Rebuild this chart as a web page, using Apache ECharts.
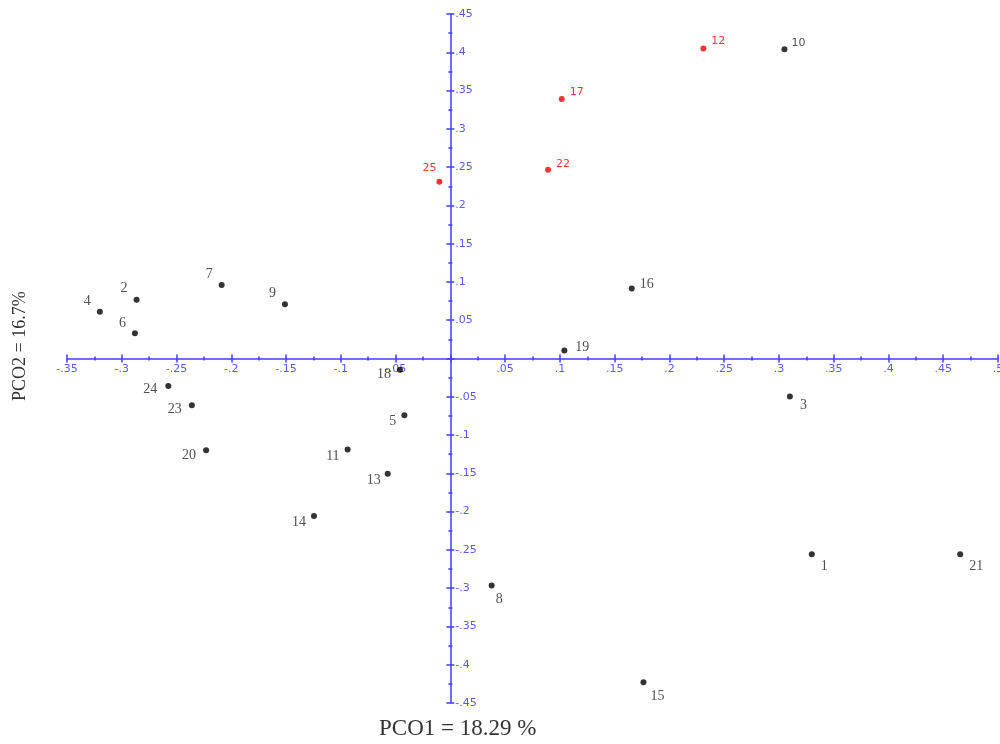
<!DOCTYPE html>
<html>
<head>
<meta charset="utf-8">
<script src="https://cdn.jsdelivr.net/npm/echarts@6/dist/echarts.min.js"></script>
<style>
  html, body { margin: 0; padding: 0; background: #fff; }
  #main { width: 1000px; height: 744px; }
</style>
</head>
<body>
<div id="main"></div>
<script>
// sample ids and their PCO scores
var blackIds = ['1', '2', '3', '4', '5', '6', '7', '8', '9', '10', '11', '13', '14',
                '15', '16', '18', '19', '20', '21', '23', '24'];
var blackPco1 = [0.330, -0.2865, 0.310, -0.320, -0.042, -0.288, -0.2088, 0.0377, -0.151, 0.305, -0.0938, -0.0572, -0.1245,
                 0.1763, 0.1656, -0.046, 0.1041, -0.223, 0.4655, -0.236, -0.2575];
var blackPco2 = [-0.2556, 0.0768, -0.0495, 0.0612, -0.074, 0.033, 0.096, -0.2965, 0.071, 0.404, -0.119, -0.1506, -0.2057,
                 -0.4228, 0.0916, -0.0147, 0.0104, -0.120, -0.2556, -0.061, -0.036];

var redIds = ['12', '17', '22', '25'];
var redPco1 = [0.231, 0.1017, 0.0892, -0.010];
var redPco2 = [0.405, 0.339, 0.2465, 0.231];

var xRange = [-0.35, 0.5];
var yRange = [-0.45, 0.45];

// label placement (style only): position, distance, vertical shift, horizontal shift
var labelPlace = {
    '10': ['right', 4, -6], '12': ['right', 5, -7], '17': ['right', 5, -7], '22': ['right', 5, -6],
    '25': ['top', 5, 0, -10],
    '16': ['right', 5, -4], '19': ['right', 8, -3],
    '3': ['right', 7, 9], '1': ['right', 6, 12], '21': ['right', 6, 12], '8': ['right', 1, 14], '15': ['right', 4, 14],
    '7': ['left', 6, -11], '9': ['left', 6, -11], '2': ['left', 6, -11], '4': ['left', 6, -10], '6': ['left', 6, -10],
    '24': ['left', 8, 3], '23': ['left', 7, 4], '20': ['left', 7, 5], '18': ['left', 6, 5], '5': ['left', 5, 6],
    '11': ['left', 5, 7], '13': ['left', 4, 7], '14': ['left', 5, 6]
};
var sansIds = ['10', '12', '17', '22', '25'];

function buildData(ids, xs, ys) {
    return ids.map(function (id, i) {
        var p = labelPlace[id];
        var sans = sansIds.indexOf(id) >= 0;
        return {
            name: id,
            value: [xs[i], ys[i]],
            label: {
                position: p[0],
                distance: p[1],
                offset: [p[3] || 0, p[2]],
                fontFamily: sans ? 'DejaVu Sans' : 'Liberation Serif',
                fontSize: sans ? 11 : 14
            }
        };
    });
}

function fmt(v) {
    if (Math.abs(v) < 1e-9) return '';
    var s = String(Number(v.toFixed(3)));
    return s.replace(/^(-?)0\./, '$1.');
}

var axisBlue = '#3f3fff';
var labelBlue = '#5a5aff';

// grid box
var gLeft = 67, gRight = 2, gTop = 14, gBottom = 41;
var gW = 1000 - gLeft - gRight, gH = 744 - gTop - gBottom;
// move the axes from the grid edge to the zero lines (axis labels follow)
var xAxisShift = -gH * (0 - yRange[0]) / (yRange[1] - yRange[0]);
var yAxisShift = -gW * (0 - xRange[0]) / (xRange[1] - xRange[0]);

function valueAxis(range, main) {
    return {
        type: 'value',
        min: range[0],
        max: range[1],
        interval: 0.05,
        position: main.pos,
        offset: main.shift,
        axisLine: { show: main.first, onZero: false, lineStyle: { color: axisBlue, width: 1.5 } },
        axisTick: { show: true, inside: !main.first, length: 4, lineStyle: { color: axisBlue, width: 1.5 } },
        minorTick: { show: true, splitNumber: 2, length: 2, lineStyle: { color: axisBlue, width: 1.5 } },
        axisLabel: {
            show: main.first,
            inside: main.inside,
            margin: 5,
            color: labelBlue,
            fontFamily: 'DejaVu Sans',
            fontSize: 11,
            formatter: fmt,
            showMinLabel: true,
            showMaxLabel: true
        },
        splitLine: { show: false }
    };
}

var myChart = echarts.init(document.getElementById('main'));

option = {
    backgroundColor: '#fff',
    animation: false,
    grid: { left: gLeft, right: gRight, top: gTop, bottom: gBottom, outerBoundsMode: 'none' },
    xAxis: [
        valueAxis(xRange, { pos: 'bottom', first: true, inside: false, shift: xAxisShift }),
        valueAxis(xRange, { pos: 'bottom', first: false, inside: false, shift: xAxisShift })
    ],
    yAxis: [
        valueAxis(yRange, { pos: 'left', first: true, inside: true, shift: yAxisShift }),
        valueAxis(yRange, { pos: 'left', first: false, inside: true, shift: yAxisShift })
    ],
    graphic: [
        {
            type: 'text',
            left: 379,
            top: 717,
            style: { text: 'PCO1 = 18.29 %', fill: '#333', font: '23px "Liberation Serif"' }
        },
        {
            type: 'text',
            x: 11,
            y: 401,
            rotation: Math.PI / 2,
            style: { text: 'PCO2 = 16.7%', fill: '#333', font: '18px "Liberation Serif"', verticalAlign: 'top' }
        }
    ],
    series: [
        {
            name: 'black',
            type: 'scatter',
            symbolSize: 6,
            itemStyle: { color: '#000' },
            label: { show: true, formatter: '{b}', color: '#222' },
            data: buildData(blackIds, blackPco1, blackPco2)
        },
        {
            name: 'red',
            type: 'scatter',
            symbolSize: 6,
            itemStyle: { color: '#ff0000' },
            label: { show: true, formatter: '{b}', color: '#ff0000' },
            data: buildData(redIds, redPco1, redPco2)
        }
    ]
};

myChart.setOption(option);
</script>
</body>
</html>
